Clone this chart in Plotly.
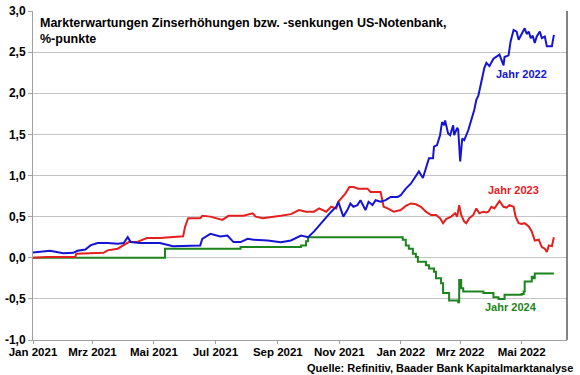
import plotly.graph_objects as go

# ---- data ----
dates_2022 = ["2021-01-01","2021-01-08","2021-01-18","2021-01-31","2021-02-10","2021-02-14","2021-02-22","2021-02-27",
              "2021-03-06","2021-03-16","2021-03-26","2021-04-01","2021-04-05","2021-04-08","2021-04-17","2021-05-07",
              "2021-05-20","2021-06-16","2021-06-18","2021-06-26","2021-07-06","2021-07-13","2021-07-19","2021-07-26",
              "2021-08-02","2021-08-08","2021-08-22","2021-09-04","2021-09-14","2021-09-24","2021-10-01","2021-10-07",
              "2021-10-14","2021-10-19","2021-10-24","2021-10-29","2021-10-31","2021-11-05","2021-11-09","2021-11-12",
              "2021-11-15","2021-11-19","2021-11-22","2021-11-27","2021-11-30","2021-12-04","2021-12-07","2021-12-12",
              "2021-12-17","2021-12-22","2021-12-29","2022-01-01","2022-01-06","2022-01-11","2022-01-16","2022-01-19",
              "2022-01-23","2022-01-26","2022-01-29","2022-02-02","2022-02-03","2022-02-06","2022-02-09","2022-02-11",
              "2022-02-13","2022-02-14","2022-02-17","2022-02-19","2022-02-22","2022-02-23","2022-02-26","2022-02-27",
              "2022-03-01","2022-03-03","2022-03-05","2022-03-09","2022-03-12","2022-03-15","2022-03-17","2022-03-19",
              "2022-03-22","2022-03-25","2022-03-27","2022-03-30","2022-04-03","2022-04-06","2022-04-09","2022-04-13",
              "2022-04-14","2022-04-18","2022-04-20","2022-04-23","2022-04-26","2022-04-28","2022-05-01","2022-05-04",
              "2022-05-06","2022-05-08","2022-05-10","2022-05-12","2022-05-14","2022-05-16","2022-05-19","2022-05-21",
              "2022-05-24","2022-05-26","2022-05-31","2022-06-02"]
values_2022 = [0.065,0.07,0.085,0.055,0.06,0.085,0.10,0.15,
               0.18,0.18,0.17,0.18,0.25,0.19,0.18,0.18,
               0.14,0.15,0.23,0.29,0.26,0.27,0.19,0.19,
               0.23,0.22,0.21,0.19,0.21,0.27,0.25,0.32,
               0.42,0.50,0.56,0.62,0.68,0.50,0.58,0.66,
               0.62,0.64,0.70,0.58,0.68,0.64,0.70,0.68,
               0.70,0.74,0.74,0.76,0.84,0.90,1.00,1.05,
               0.97,1.09,1.21,1.21,1.35,1.37,1.49,1.65,
               1.61,1.67,1.51,1.49,1.61,1.49,1.58,1.56,
               1.17,1.45,1.43,1.55,1.67,1.80,1.92,1.97,
               2.14,2.31,2.37,2.33,2.42,2.44,2.47,2.34,
               2.44,2.46,2.63,2.77,2.75,2.65,2.73,2.79,
               2.72,2.75,2.67,2.70,2.61,2.69,2.75,2.67,
               2.69,2.57,2.57,2.71]

dates_2023 = ["2021-01-01","2021-01-15","2021-02-12","2021-02-13","2021-03-12","2021-03-16","2021-03-26","2021-04-01",
              "2021-04-06","2021-04-14","2021-04-24","2021-05-07","2021-05-17","2021-05-30","2021-06-01","2021-06-04",
              "2021-06-16","2021-06-18","2021-06-26","2021-07-08","2021-07-14","2021-07-29","2021-08-07","2021-08-10",
              "2021-08-17","2021-08-25","2021-09-04","2021-09-14","2021-09-22","2021-09-29","2021-10-07","2021-10-12",
              "2021-10-19","2021-10-24","2021-10-29","2021-10-31","2021-11-04","2021-11-07","2021-11-11","2021-11-15",
              "2021-11-20","2021-11-29","2021-12-02","2021-12-12","2021-12-15","2021-12-19","2021-12-25","2022-01-01",
              "2022-01-06","2022-01-11","2022-01-16","2022-01-21","2022-01-26","2022-01-31","2022-02-05","2022-02-09",
              "2022-02-12","2022-02-15","2022-02-20","2022-02-24","2022-02-26","2022-02-28","2022-03-02","2022-03-05",
              "2022-03-07","2022-03-10","2022-03-14","2022-03-17","2022-03-20","2022-03-24","2022-03-27","2022-03-29",
              "2022-04-01","2022-04-04","2022-04-09","2022-04-13","2022-04-16","2022-04-19","2022-04-23","2022-04-25",
              "2022-04-28","2022-05-01","2022-05-04","2022-05-08","2022-05-11","2022-05-14","2022-05-18","2022-05-21",
              "2022-05-24","2022-05-26","2022-05-28","2022-05-31","2022-06-02"]
values_2023 = [0.0,0.01,0.01,0.05,0.06,0.09,0.11,0.15,
               0.19,0.19,0.24,0.24,0.25,0.26,0.38,0.48,
               0.48,0.51,0.50,0.46,0.51,0.51,0.54,0.50,
               0.48,0.49,0.51,0.53,0.58,0.56,0.56,0.60,
               0.56,0.62,0.60,0.68,0.74,0.78,0.86,0.86,
               0.84,0.84,0.80,0.80,0.62,0.60,0.56,0.58,
               0.63,0.66,0.65,0.62,0.56,0.52,0.52,0.48,
               0.42,0.47,0.50,0.54,0.50,0.64,0.52,0.44,
               0.42,0.48,0.52,0.60,0.54,0.56,0.55,0.56,
               0.62,0.60,0.69,0.62,0.61,0.64,0.62,0.50,
               0.42,0.41,0.42,0.38,0.32,0.21,0.22,0.13,
               0.11,0.07,0.15,0.14,0.25]

dates_2024 = ["2021-01-01","2021-05-12","2021-07-26","2021-09-24","2021-09-29","2021-10-01","2022-01-03","2022-01-06",
              "2022-01-09","2022-01-13","2022-01-16","2022-01-18","2022-01-26","2022-01-29","2022-02-03","2022-02-05",
              "2022-02-10","2022-02-12","2022-02-18","2022-02-27","2022-02-28","2022-03-02","2022-03-04","2022-03-24",
              "2022-04-03","2022-04-08","2022-04-14","2022-05-01","2022-05-03","2022-05-04","2022-05-11","2022-05-12",
              "2022-05-14","2022-06-02"]
values_2024 = [0.0,0.11,0.13,0.15,0.20,0.25,0.22,0.15,
               0.11,0.05,0.01,-0.05,-0.09,-0.13,-0.17,-0.25,
               -0.31,-0.43,-0.52,-0.54,-0.27,-0.37,-0.41,-0.43,
               -0.48,-0.50,-0.45,-0.44,-0.41,-0.29,-0.23,-0.25,
               -0.19,-0.19]

y_ticks = [-1.0, -0.5, 0.0, 0.5, 1.0, 1.5, 2.0, 2.5, 3.0]
y_tick_labels = ["-1,0", "-0,5", "0,0", "0,5", "1,0", "1,5", "2,0", "2,5", "3,0"]
x_ticks = ["2021-01-01", "2021-03-01", "2021-05-01", "2021-07-01", "2021-09-01",
           "2021-11-01", "2022-01-01", "2022-03-01", "2022-05-01"]
x_tick_labels = ["Jan 2021", "Mrz 2021", "Mai 2021", "Jul 2021", "Sep 2021",
                 "Nov 2021", "Jan 2022", "Mrz 2022", "Mai 2022"]

FONT = "Liberation Sans, Arial, sans-serif"
C_BLUE = "#1414d2"
C_RED = "#e4201e"
C_GREEN = "#1e8420"

fig = go.Figure()
fig.add_trace(go.Scatter(x=dates_2024, y=values_2024, mode="lines", line=dict(color=C_GREEN, width=2, shape="hv")))
fig.add_trace(go.Scatter(x=dates_2023, y=values_2023, mode="lines", line=dict(color=C_RED, width=2)))
fig.add_trace(go.Scatter(x=dates_2022, y=values_2022, mode="lines", line=dict(color=C_BLUE, width=2)))

fig.update_layout(
    width=580, height=375,
    margin=dict(l=33, r=13, t=11, b=35, autoexpand=False),
    paper_bgcolor="white", plot_bgcolor="white",
    showlegend=False,
    font=dict(family=FONT, size=12, color="black"),
    xaxis=dict(
        type="date", range=["2021-01-01", "2022-06-15"], automargin=False,
        tickvals=x_ticks, ticktext=x_tick_labels,
        tickfont=dict(family=FONT, size=11.5, color="black", weight="bold"),
        ticklabelstandoff=-2,
        showgrid=False, showline=True, linecolor="#a0a0a0", linewidth=1,
        ticks="outside", ticklen=3, tickcolor="#a0a0a0", zeroline=False,
    ),
    yaxis=dict(
        range=[-1.0, 3.0], tickvals=y_ticks, ticktext=y_tick_labels, automargin=False,
        tickfont=dict(family=FONT, size=12, color="black", weight="bold"),
        showgrid=True, gridcolor="#c4c4c4", gridwidth=1,
        showline=True, linecolor="#a0a0a0", linewidth=1,
        ticks="outside", ticklen=4, tickcolor="#a0a0a0", zeroline=False,
    ),
    shapes=[dict(type="line", xref="paper", yref="paper", x0=1, x1=1, y0=0, y1=1,
                 line=dict(color="#303030", width=1.2))],
    annotations=[
        dict(text="Markterwartungen Zinserhöhungen bzw. -senkungen US-Notenbank,<br>%-punkte",
             xref="paper", yref="paper", x=0.009, y=0.99, xanchor="left", yanchor="top",
             align="left", showarrow=False,
             font=dict(family=FONT, size=12.5, color="black", weight="bold")),
        dict(text="Jahr 2022", xref="x", yref="y", x="2022-05-01", y=2.23, showarrow=False,
             font=dict(family=FONT, size=11, color=C_BLUE, weight="bold")),
        dict(text="Jahr 2023", xref="x", yref="y", x="2022-04-23", y=0.82, showarrow=False,
             font=dict(family=FONT, size=11, color=C_RED, weight="bold")),
        dict(text="Jahr 2024", xref="x", yref="y", x="2022-04-20", y=-0.60, showarrow=False,
             font=dict(family=FONT, size=11, color=C_GREEN, weight="bold")),
        dict(text="Quelle: Refinitiv, Baader Bank Kapitalmarktanalyse",
             xref="paper", yref="paper", x=1.015, y=-0.085, xanchor="right", yanchor="middle",
             showarrow=False, font=dict(family=FONT, size=11, color="black", weight="bold")),
    ],
)

fig.write_html("out.html", config={"displayModeBar": False},
               post_script="document.body.style.margin='0';document.body.style.overflow='hidden';")
